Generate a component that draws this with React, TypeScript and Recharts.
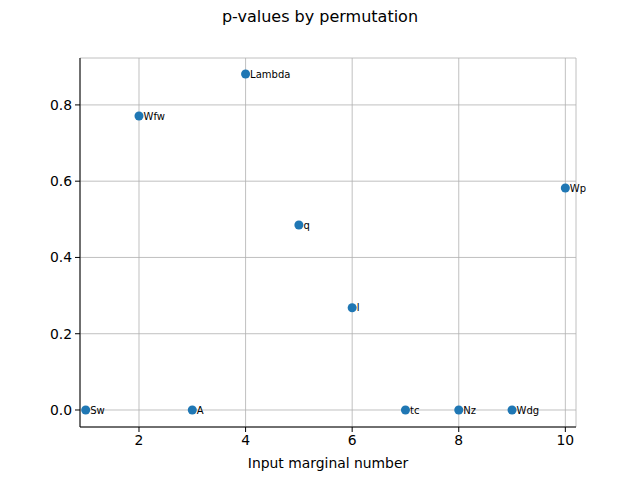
import React from "react";
import { ScatterChart, Scatter, XAxis, YAxis, ZAxis, CartesianGrid, LabelList, Label } from "recharts";

const names = ["Sw", "Wfw", "A", "Lambda", "q", "l", "tc", "Nz", "Wdg", "Wp"];
const marginals = [1, 2, 3, 4, 5, 6, 7, 8, 9, 10];
const pValues = [0.0, 0.771, 0.0, 0.881, 0.485, 0.268, 0.0, 0.0, 0.0, 0.582];
const xTicks = [2, 4, 6, 8, 10];
const yTicks = [0, 0.2, 0.4, 0.6, 0.8];

const data = names.map((name, i) => ({ name, x: marginals[i], p: pValues[i] }));

const FONT = "DejaVu Sans, sans-serif";

export default function App() {
    return (
        <div style={{ position: "absolute", left: 0, top: 0, width: 640, height: 480, background: "#fff", fontFamily: FONT }}>
            <div style={{ position: "absolute", top: 7, left: 0, width: 640, textAlign: "center", fontSize: 16, color: "#000" }}>
                p-values by permutation
            </div>
            <ScatterChart width={640} height={480} margin={{ top: 58, right: 64, left: 0, bottom: 0 }}>
                <CartesianGrid stroke="#b0b0b0" strokeWidth={0.8} />
                <XAxis
                    type="number"
                    dataKey="x"
                    domain={[0.893, 10.2]}
                    ticks={xTicks}
                    allowDataOverflow
                    height={53}
                    tickSize={5}
                    tickMargin={3}
                    stroke="#000"
                    tick={{ fill: "#000", fontSize: 13.9, fontFamily: FONT }}
                >
                    <Label value="Input marginal number" position="insideBottom" offset={12} style={{ fill: "#000", fontSize: 13.9, fontFamily: FONT }} />
                </XAxis>
                <XAxis xAxisId="top" orientation="top" type="number" domain={[0, 1]} tick={false} height={0} stroke="#000" />
                <YAxis
                    type="number"
                    dataKey="p"
                    domain={[-0.0446, 0.923]}
                    ticks={yTicks}
                    allowDataOverflow
                    width={80}
                    tickSize={5}
                    tickMargin={3}
                    stroke="#000"
                    tickFormatter={(v: number) => v.toFixed(1)}
                    tick={{ fill: "#000", fontSize: 13.9, fontFamily: FONT }}
                />
                <YAxis yAxisId="right" orientation="right" type="number" domain={[0, 1]} tick={false} width={0} stroke="#000" />
                <ZAxis range={[66, 66]} />
                <Scatter data={data} fill="#1f77b4" isAnimationActive={false}>
                    <LabelList dataKey="name" position="right" offset={0} style={{ fill: "#000", fontSize: 10, fontFamily: FONT }} />
                </Scatter>
            </ScatterChart>
        </div>
    );
}
